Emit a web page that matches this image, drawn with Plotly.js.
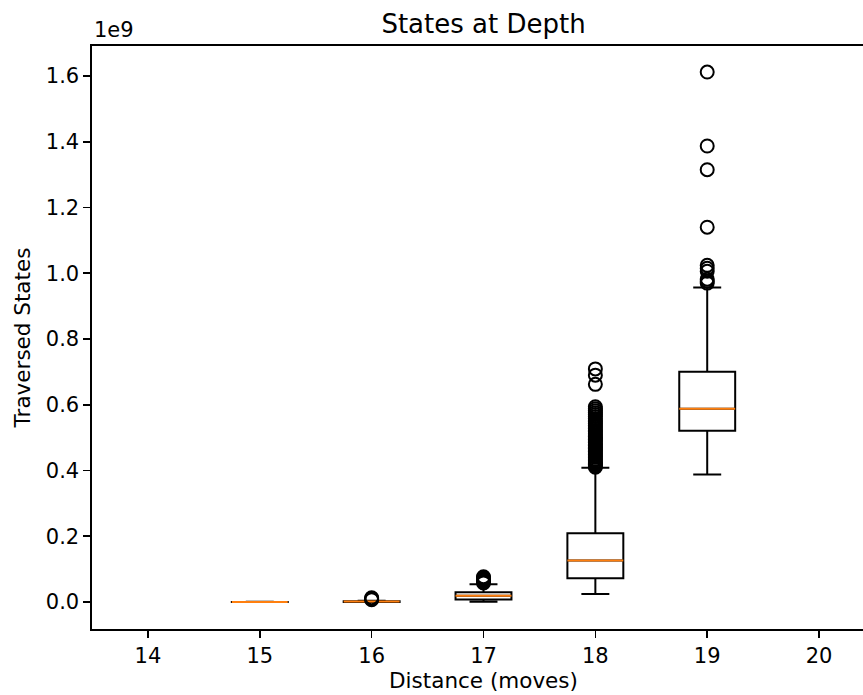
<!DOCTYPE html>
<html>
<head>
<meta charset="utf-8">
<script src="https://cdn.plot.ly/plotly-3.0.1.min.js"></script>
<style>
html,body{margin:0;padding:0;overflow:hidden;background:#fff;}
#chart{width:900px;height:695px;}
</style>
</head>
<body>
<div id="chart"></div>
<script>
// Data (values in states)
const distances = [15, 16, 17, 18, 19];
const q1Vals     = [0.00005e9, 0.0004e9, 0.008e9, 0.072e9, 0.521e9];
const medianVals = [0.0001e9, 0.0012e9, 0.019e9, 0.126e9, 0.588e9];
const q3Vals     = [0.0002e9, 0.0025e9, 0.0295e9, 0.209e9, 0.700e9];
const lowWhisker = [0.0, 0.0, 0.001e9, 0.0243e9, 0.388e9];
const highWhisker= [0.0005e9, 0.004e9, 0.054e9, 0.4085e9, 0.957e9];

const outliers15 = [];
const outliers16 = [0.007e9, 0.009e9, 0.011e9, 0.013e9];
const outliers17 = [0.058e9, 0.062e9, 0.066e9, 0.070e9, 0.074e9, 0.077e9];
const outliers18 = [0.410e9, 0.414e9, 0.418e9, 0.422e9, 0.426e9, 0.431e9, 0.435e9, 0.440e9,
  0.444e9, 0.449e9, 0.453e9, 0.458e9, 0.462e9, 0.467e9, 0.471e9, 0.476e9, 0.480e9, 0.485e9,
  0.490e9, 0.494e9, 0.499e9, 0.503e9, 0.508e9, 0.513e9, 0.518e9, 0.522e9, 0.527e9, 0.532e9,
  0.537e9, 0.543e9, 0.548e9, 0.553e9, 0.558e9, 0.564e9, 0.570e9, 0.576e9, 0.582e9, 0.588e9,
  0.594e9, 0.662e9, 0.690e9, 0.709e9];
const outliers19 = [0.970e9, 0.976e9, 0.982e9, 1.006e9, 1.015e9, 1.024e9, 1.140e9, 1.315e9, 1.387e9, 1.612e9];

const xTicks = [14, 15, 16, 17, 18, 19, 20];
const yTicks = [0, 0.2e9, 0.4e9, 0.6e9, 0.8e9, 1.0e9, 1.2e9, 1.4e9, 1.6e9];
const yTickText = ["0.0", "0.2", "0.4", "0.6", "0.8", "1.0", "1.2", "1.4", "1.6"];

const allOutliers = [outliers15, outliers16, outliers17, outliers18, outliers19];

const boxTrace = {
  type: 'box',
  x: distances,
  q1: q1Vals,
  median: medianVals,
  q3: q3Vals,
  lowerfence: lowWhisker,
  upperfence: highWhisker,
  boxpoints: false,
  width: 0.5,
  whiskerwidth: 0.5,
  fillcolor: 'rgba(255,255,255,0)',
  line: {color: '#000000', width: 2},
  hoverinfo: 'skip',
  showlegend: false
};

// Median lines (orange), built from the median array
const medX = [], medY = [];
distances.forEach((d, i) => {
  medX.push(d - 0.25, d + 0.25, null);
  medY.push(medianVals[i], medianVals[i], null);
});
const medianTrace = {
  type: 'scatter', mode: 'lines', x: medX, y: medY,
  line: {color: '#ff7f0e', width: 2}, showlegend: false, hoverinfo: 'skip'
};

const flX = [], flY = [];
distances.forEach((d, i) => {
  allOutliers[i].forEach(v => { flX.push(d); flY.push(v); });
});
const flierTrace = {
  type: 'scatter', mode: 'markers', x: flX, y: flY,
  marker: {symbol: 'circle-open', size: 13, color: '#000000', line: {color: '#000000', width: 2}},
  showlegend: false, hoverinfo: 'skip'
};

const tickFont = {family: 'DejaVu Sans', size: 21, color: '#000000'};
const labelFont = {family: 'DejaVu Sans', size: 21.5, color: '#000000'};

const layout = {
  width: 900, height: 695,
  margin: {l: 92, r: 25, t: 46, b: 66, pad: 0},
  paper_bgcolor: '#ffffff', plot_bgcolor: '#ffffff',
  font: tickFont,
  showlegend: false,
  title: {text: 'States at Depth', font: {family: 'DejaVu Sans', size: 26, color: '#000'},
          x: 0.5, xref: 'paper', y: 1, yref: 'paper', yanchor: 'bottom', pad: {b: 13}},
  xaxis: {
    range: [13.5, 20.5], tickvals: xTicks, ticktext: xTicks.map(String),
    ticks: 'outside', ticklen: 7, tickwidth: 1.6, tickcolor: '#000',
    showline: true, linecolor: '#000', linewidth: 1.6, mirror: true,
    showgrid: false, zeroline: false, tickfont: tickFont,
    title: {text: 'Distance (moves)', font: labelFont, standoff: 4}
  },
  yaxis: {
    range: [-0.0821e9, 1.6912e9], tickvals: yTicks, ticktext: yTickText,
    ticks: 'outside', ticklen: 7, tickwidth: 1.6, tickcolor: '#000',
    showline: true, linecolor: '#000', linewidth: 1.6, mirror: true,
    showgrid: false, zeroline: false, tickfont: tickFont,
    title: {text: 'Traversed States', font: labelFont, standoff: 9}
  },
  annotations: [{
    text: '1e9', xref: 'paper', yref: 'paper', x: 0, y: 1,
    xanchor: 'left', yanchor: 'bottom', yshift: 2, showarrow: false, font: tickFont
  }]
};

Plotly.newPlot('chart', [boxTrace, medianTrace, flierTrace], layout, {staticPlot: true});
</script>
</body>
</html>
